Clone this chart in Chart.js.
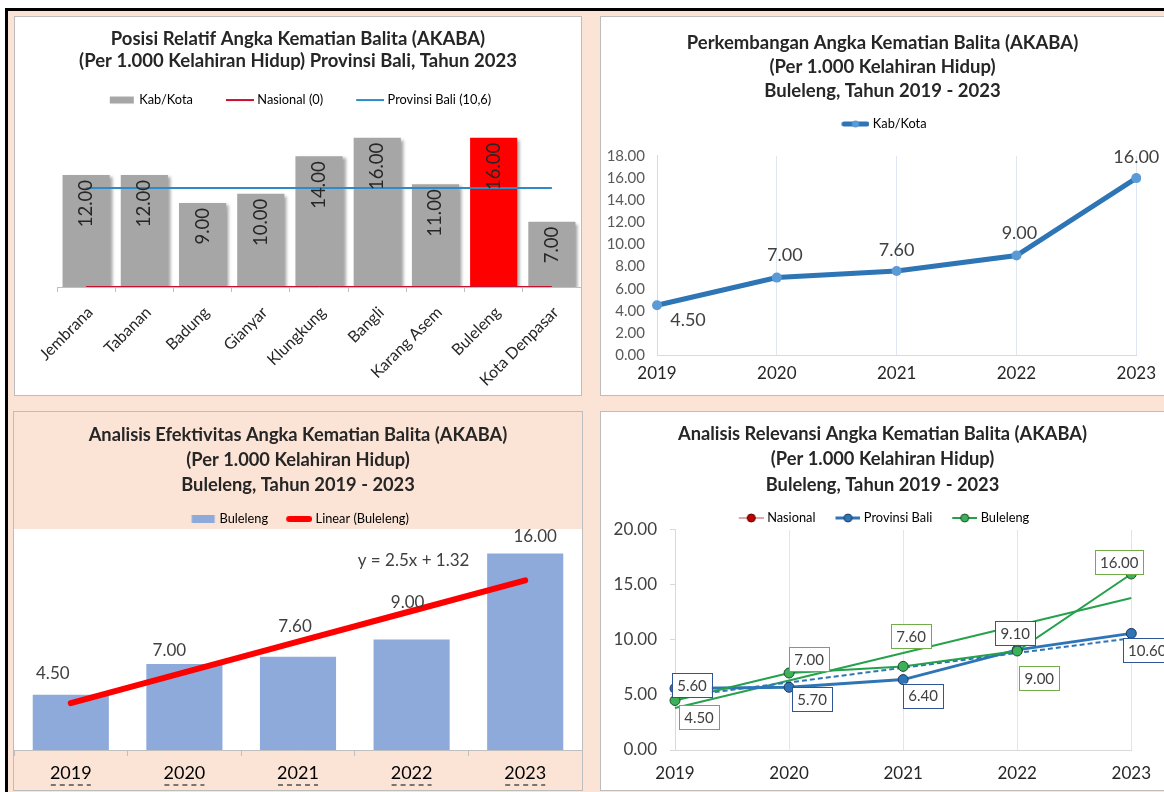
<!DOCTYPE html>
<html>
<head>
<meta charset="utf-8">
<script src="https://cdn.jsdelivr.net/npm/chart.js@4.4.1/dist/chart.umd.min.js"></script>
<style>
html, body { margin: 0; padding: 0; width: 1164px; height: 792px; overflow: hidden; background: #fff; }
#bingkai { position: absolute; left: 5px; top: 8px; width: 1159px; height: 784px; box-sizing: border-box;
  border-top: 3px solid #000; border-left: 3px solid #000; background: #fbe4d6; }
.panel { position: absolute; background: #fff; outline: 1px solid #bdbdbd; }
.panel canvas { display: block; }
#p1 { left: 15px; top: 17px; width: 566px; height: 378px; }
#p2 { left: 601px; top: 17px; width: 563px; height: 378px; }
#p3 { left: 14px; top: 412px; width: 568px; height: 378px; background: #fbe4d6; }
#p4 { left: 601px; top: 412px; width: 563px; height: 378px; }
</style>
</head>
<body>
<div id="bingkai"></div>
<div class="panel" id="p1"><canvas id="c1" width="566" height="378"></canvas></div>
<div class="panel" id="p2"><canvas id="c2" width="563" height="378"></canvas></div>
<div class="panel" id="p3"><canvas id="c3" width="568" height="378"></canvas></div>
<div class="panel" id="p4"><canvas id="c4" width="563" height="378"></canvas></div>
<script>
// data
var kabKota = ['Jembrana', 'Tabanan', 'Badung', 'Gianyar', 'Klungkung', 'Bangli', 'Karang Asem', 'Buleleng', 'Kota Denpasar'];
var akabaKabKota = [12, 12, 9, 10, 14, 16, 11, 16, 7];
var akabaNasional2023 = 0;
var akabaBali2023 = 10.6;

var tahun = ['2019', '2020', '2021', '2022', '2023'];
var akabaBuleleng = [4.5, 7, 7.6, 9, 16];
var akabaProvinsi = [5.6, 5.7, 6.4, 9.1, 10.6];
var akabaNasional = [null, null, null, null, null];

// posisi label data (dx, dy dari titik)
var posLabel2 = [[31, 14], [8, -23], [0, -22], [3, -23], [0, -22]];
var posLabel3 = [[-18, -22], [-15, -15], [-3, -31], [-4, -38], [10, -18]];
var posLabelBali = [[17, -3], [23, 12], [20, 16], [-2, -17], [16, 17]];
var posLabelBuleleng = [[24, 17], [20, -14], [8, -30], [22, 27], [-12, -12]];

var FONT = 'Lato, "Liberation Sans", sans-serif';
Chart.defaults.font.family = FONT;
Chart.defaults.animation = false;
Chart.defaults.events = [];
Chart.defaults.plugins.tooltip.enabled = false;

// garis tren linear (kuadrat terkecil), x = 1..n seperti Excel
function garisTren(values) {
    var n = values.length, sx = 0, sy = 0, sxy = 0, sxx = 0;
    values.forEach(function (y, i) {
        var x = i + 1;
        sx += x; sy += y; sxy += x * y; sxx += x * x;
    });
    var b = (n * sxy - sx * sy) / (n * sxx - sx * sx);
    var a = (sy - b * sx) / n;
    return { slope: b, intercept: a, data: values.map(function (y, i) { return a + b * (i + 1); }) };
}
var trenBuleleng = garisTren(akabaBuleleng);
var trenProvinsi = garisTren(akabaProvinsi);

// ikon legenda digambar sendiri
function ikon(W, draw) {
    var c = document.createElement('canvas');
    c.width = W + 6;
    c.height = 14;
    var g = c.getContext('2d');
    g.translate(6, 0);
    draw(g, W, 7);
    return c;
}
function ikonKotak(warna, w, h) {
    return function (g, W, cy) {
        g.fillStyle = warna;
        g.fillRect((W - w) / 2, cy - h / 2, w, h);
    };
}
function ikonGaris(warna, tebal, r, isi, tepi) {
    return function (g, W, cy) {
        g.strokeStyle = warna;
        g.lineWidth = tebal;
        g.lineCap = tebal > 4 ? 'round' : 'butt';
        g.beginPath();
        g.moveTo(tebal > 4 ? tebal / 2 : 0, cy);
        g.lineTo(tebal > 4 ? W - tebal / 2 : W, cy);
        g.stroke();
        if (r) {
            g.beginPath();
            g.arc(W / 2, cy, r, 0, Math.PI * 2);
            g.fillStyle = isi;
            g.fill();
            if (tepi) { g.lineWidth = 1; g.strokeStyle = tepi; g.stroke(); }
        }
    };
}

function labelLegenda(chart) {
    var items = [];
    chart.data.datasets.forEach(function (ds, i) {
        if (!ds.legendIcon) return;
        items.push({ text: ds.label, pointStyle: ds.legendIcon, fillStyle: 'rgba(0,0,0,0)',
            strokeStyle: 'rgba(0,0,0,0)', lineWidth: 0, hidden: false, datasetIndex: i });
    });
    return items;
}

function legenda(W, pad, size) {
    return {
        display: true,
        labels: { usePointStyle: true, pointStyleWidth: W, boxHeight: size, padding: pad,
            color: '#404040', font: { size: size }, generateLabels: labelLegenda }
    };
}

function judul(lines, size, lh, top, bottom) {
    return { display: true, text: lines, color: '#262626',
        font: { size: size, weight: 'bold', lineHeight: lh }, padding: { top: top, bottom: bottom } };
}

// sumbu kosong untuk memberi ruang kiri/kanan area plot tanpa menggeser judul
function sumbuKosong(pos, lebar) {
    return { axis: 'y', position: pos, display: true, min: 0, max: 1,
        ticks: { display: false }, grid: { display: false, drawTicks: false }, border: { display: false },
        afterFit: function (s) { s.width = lebar; } };
}

// tambahan jarak di bawah legenda
var jarakLegenda = {
    id: 'jarakLegenda',
    beforeInit: function (chart, args, opts) {
        var fit = chart.legend.fit;
        chart.legend.fit = function () {
            fit.bind(chart.legend)();
            this.height += opts.extra || 0;
        };
    }
};

// latar putih area plot
var latarPlot = {
    id: 'latarPlot',
    beforeDraw: function (chart, args, opts) {
        if (!opts.color) return;
        var a = chart.chartArea;
        chart.ctx.save();
        chart.ctx.fillStyle = opts.color;
        chart.ctx.fillRect(a.left, a.top, a.right - a.left, a.bottom - a.top);
        chart.ctx.restore();
    }
};

// bayangan batang (grafik 1)
var bayangan = {
    id: 'bayangan',
    beforeDatasetDraw: function (chart, args, opts) {
        if (!opts.on || args.meta.type !== 'bar') return;
        var ctx = chart.ctx;
        ctx.save();
        ctx.shadowColor = 'rgba(0,0,0,0.35)';
        ctx.shadowBlur = 3;
        ctx.shadowOffsetX = 3;
        ctx.shadowOffsetY = 2;
    },
    afterDatasetDraw: function (chart, args, opts) {
        if (!opts.on || args.meta.type !== 'bar') return;
        chart.ctx.restore();
    }
};

// garis putus-putus di bawah label sumbu x (grafik 3)
var garisBawah = {
    id: 'garisBawah',
    afterDraw: function (chart, args, opts) {
        if (!opts.on) return;
        var ctx = chart.ctx, sx = chart.scales.x;
        ctx.save();
        ctx.strokeStyle = '#505050';
        ctx.lineWidth = 1.5;
        ctx.setLineDash([5, 4]);
        sx.ticks.forEach(function (t, i) {
            var x = sx.getPixelForTick(i);
            ctx.beginPath();
            ctx.moveTo(x - 20, opts.y);
            ctx.lineTo(x + 20, opts.y);
            ctx.stroke();
        });
        ctx.restore();
    }
};

// label nilai
var labelNilai = {
    id: 'labelNilai',
    afterDatasetsDraw: function (chart) {
        var ctx = chart.ctx;
        chart.data.datasets.forEach(function (ds, i) {
            if (!ds.labelSize) return;
            var meta = chart.getDatasetMeta(i);
            meta.data.forEach(function (el, j) {
                var v = ds.data[j];
                if (v == null) return;
                var teks = v.toFixed(2);
                ctx.save();
                ctx.font = ds.labelSize + 'px ' + FONT;
                ctx.fillStyle = '#404040';
                ctx.textBaseline = 'middle';
                if (ds.labelRotate) {
                    ctx.fillStyle = '#262626';
                    ctx.translate(el.x, el.y + 5);
                    ctx.rotate(-Math.PI / 2);
                    ctx.textAlign = 'right';
                    ctx.fillText(teks, 0, 0);
                } else {
                    var o = ds.labelOffsets[j];
                    var x = el.x + o[0], y = el.y + o[1];
                    ctx.textAlign = 'center';
                    if (ds.labelBox) {
                        var w = ctx.measureText(teks).width + 10;
                        ctx.fillStyle = '#fff';
                        ctx.fillRect(x - w / 2, y - 12, w, 24);
                        ctx.strokeStyle = ds.labelBox;
                        ctx.lineWidth = 1;
                        ctx.strokeRect(Math.round(x - w / 2) + 0.5, Math.round(y - 12) + 0.5, Math.round(w), 24);
                        ctx.fillStyle = '#404040';
                    }
                    ctx.fillText(teks, x, y + 1);
                }
                ctx.restore();
            });
        });
        var eq = chart.options.plugins.labelNilai && chart.options.plugins.labelNilai.persamaan;
        if (eq) {
            ctx.save();
            ctx.font = '17px ' + FONT;
            ctx.fillStyle = '#404040';
            ctx.textAlign = 'center';
            ctx.textBaseline = 'middle';
            ctx.fillText(eq.text, chart.scales.x.getPixelForValue(eq.at[0]) + 2, chart.scales.y.getPixelForValue(eq.at[1]));
            ctx.restore();
        }
    }
};

Chart.register(jarakLegenda, latarPlot, bayangan, garisBawah, labelNilai);

// Grafik 1: posisi relatif
new Chart(document.getElementById('c1'), {
    type: 'bar',
    data: {
        labels: kabKota,
        datasets: [{
            type: 'bar',
            label: 'Kab/Kota',
            data: akabaKabKota,
            backgroundColor: kabKota.map(function (k) { return k === 'Buleleng' ? '#ff0000' : '#a6a6a6'; }),
            barPercentage: 0.81,
            categoryPercentage: 1,
            order: 2,
            labelSize: 18.5,
            labelRotate: true,
            legendIcon: ikon(28, ikonKotak('#a6a6a6', 24, 7))
        }, {
            type: 'line',
            label: 'Nasional (0)',
            data: kabKota.map(function () { return akabaNasional2023; }),
            borderColor: '#c8102e',
            borderWidth: 2,
            pointRadius: 0,
            order: 1,
            legendIcon: ikon(28, ikonGaris('#c8102e', 2))
        }, {
            type: 'line',
            label: 'Provinsi Bali (10,6)',
            data: kabKota.map(function () { return akabaBali2023; }),
            borderColor: '#2e8bc9',
            borderWidth: 2,
            pointRadius: 0,
            order: 0,
            legendIcon: ikon(28, ikonGaris('#2e8bc9', 2))
        }]
    },
    options: {
        responsive: false,
        layout: { padding: 0 },
        plugins: {
            title: judul(['Posisi Relatif Angka Kematian Balita (AKABA)',
                '(Per 1.000 Kelahiran Hidup) Provinsi Bali, Tahun 2023'], 18.5, 1.19, 11, -8.4),
            legend: legenda(28, 30, 12.8),
            jarakLegenda: { extra: 2.6 },
            bayangan: { on: true }
        },
        scales: {
            x: {
                offset: true,
                grid: { display: true, drawOnChartArea: false, drawTicks: true, tickLength: 5, color: '#bfbfbf', offset: true },
                border: { color: '#bfbfbf' },
                ticks: { autoSkip: false, minRotation: 45, maxRotation: 45, padding: 11, labelOffset: 4,
                    color: '#262626', font: { size: 16 } },
                afterFit: function (s) { s.height = 108; }
            },
            y: {
                display: true, min: 0, max: 18,
                ticks: { display: false }, grid: { display: false, drawTicks: false }, border: { display: false },
                afterFit: function (s) { s.width = 42; }
            }
        }
    }
});

// Grafik 2: perkembangan
new Chart(document.getElementById('c2'), {
    type: 'line',
    data: {
        labels: tahun,
        datasets: [{
            label: 'Kab/Kota',
            data: akabaBuleleng,
            borderColor: '#2e75b6',
            borderWidth: 5,
            pointRadius: 5,
            pointBackgroundColor: '#5b9bd5',
            pointBorderColor: '#5b9bd5',
            pointBorderWidth: 0,
            labelSize: 18,
            labelOffsets: posLabel2,
            legendIcon: ikon(28, ikonGaris('#2e75b6', 5, 3.5, '#5b9bd5'))
        }]
    },
    options: {
        responsive: false,
        layout: { padding: 0 },
        plugins: {
            title: judul(['Perkembangan Angka Kematian Balita (AKABA)', '(Per 1.000 Kelahiran Hidup)',
                'Buleleng, Tahun 2019 - 2023'], 18.5, 1.297, 14, 4.6),
            legend: legenda(28, 10, 12.8),
            jarakLegenda: { extra: 15.6 }
        },
        scales: {
            x: {
                offset: false,
                grid: { color: '#dfe6f1', drawTicks: false },
                border: { color: '#d9d9d9' },
                ticks: { padding: 8, color: '#262626', font: { size: 17 } },
                afterFit: function (s) { s.height = 40; }
            },
            y: {
                min: 0, max: 18,
                grid: { display: false, drawTicks: false },
                border: { display: true, color: '#d9d9d9' },
                ticks: { stepSize: 2, padding: 12, color: '#595959', font: { size: 15 },
                    callback: function (v) { return v.toFixed(2); } },
                afterFit: function (s) { s.width = 56; }
            },
            kanan: sumbuKosong('right', 24)
        }
    }
});

// Grafik 3: efektivitas
new Chart(document.getElementById('c3'), {
    type: 'bar',
    data: {
        labels: tahun,
        datasets: [{
            type: 'bar',
            label: 'Buleleng',
            data: akabaBuleleng,
            backgroundColor: '#8eaadb',
            barPercentage: 0.67,
            categoryPercentage: 1,
            order: 1,
            labelSize: 17,
            labelOffsets: posLabel3,
            legendIcon: ikon(26, ikonKotak('#8eaadb', 23, 8))
        }, {
            type: 'line',
            label: 'Linear (Buleleng)',
            data: trenBuleleng.data,
            borderColor: '#ff0000',
            borderWidth: 6,
            borderCapStyle: 'round',
            pointRadius: 0,
            order: 0,
            legendIcon: ikon(26, ikonGaris('#ff0000', 6))
        }]
    },
    options: {
        responsive: false,
        layout: { padding: 0 },
        plugins: {
            title: judul(['Analisis Efektivitas Angka Kematian Balita (AKABA)', '(Per 1.000 Kelahiran Hidup)',
                'Buleleng, Tahun 2019 - 2023'], 18.3, 1.366, 10.5, 0.1),
            legend: legenda(26, 15, 12.8),
            jarakLegenda: { extra: -6.4 },
            latarPlot: { color: '#ffffff' },
            garisBawah: { on: true, y: 373 },
            labelNilai: { persamaan: {
                text: 'y = ' + +trenBuleleng.slope.toFixed(2) + 'x + ' + +trenBuleleng.intercept.toFixed(2),
                at: [3, 15.4] } }
        },
        scales: {
            x: {
                offset: true,
                grid: { display: true, drawOnChartArea: false, drawTicks: true, tickLength: 6, color: '#bfbfbf', offset: true },
                border: { color: '#bfbfbf' },
                ticks: { padding: 6, color: '#000', font: { size: 18 } },
                afterFit: function (s) { s.height = 40; }
            },
            y: { display: false, min: 0, max: 18 }
        }
    }
});

// Grafik 4: relevansi
new Chart(document.getElementById('c4'), {
    type: 'line',
    data: {
        labels: tahun,
        datasets: [{
            label: 'Nasional',
            data: akabaNasional,
            borderColor: '#c0504d',
            borderWidth: 1,
            pointRadius: 5,
            pointBackgroundColor: '#c00000',
            order: 3,
            legendIcon: ikon(25, ikonGaris('#c0504d', 1, 4, '#c00000', '#5a0000'))
        }, {
            label: 'Provinsi Bali',
            data: akabaProvinsi,
            borderColor: '#2e75b6',
            borderWidth: 3,
            pointRadius: 5,
            pointBackgroundColor: '#2e75b6',
            pointBorderColor: '#1f3864',
            pointBorderWidth: 1,
            order: 1,
            labelSize: 15,
            labelOffsets: posLabelBali,
            labelBox: '#2f5597',
            legendIcon: ikon(25, ikonGaris('#2e75b6', 3, 4, '#2e75b6', '#1f3864'))
        }, {
            label: 'Buleleng',
            data: akabaBuleleng,
            borderColor: '#22a14a',
            borderWidth: 2,
            pointRadius: 5,
            pointBackgroundColor: '#3cb15a',
            pointBorderColor: '#1e4d2b',
            pointBorderWidth: 1,
            order: 0,
            labelSize: 15,
            labelOffsets: posLabelBuleleng,
            labelBox: '#70ad47',
            legendIcon: ikon(25, ikonGaris('#22a14a', 2, 4, '#3cb15a', '#1e4d2b'))
        }, {
            label: 'Linear (Provinsi Bali)',
            data: trenProvinsi.data,
            borderColor: '#2e75b6',
            borderWidth: 2,
            borderDash: [5, 3],
            pointRadius: 0,
            order: 2
        }, {
            label: 'Linear (Buleleng)',
            data: trenBuleleng.data,
            borderColor: '#27a24c',
            borderWidth: 2,
            pointRadius: 0,
            order: 2
        }]
    },
    options: {
        responsive: false,
        layout: { padding: 0 },
        plugins: {
            title: judul(['Analisis Relevansi Angka Kematian Balita (AKABA)', '(Per 1.000 Kelahiran Hidup)',
                'Buleleng, Tahun 2019 - 2023'], 18.3, 1.393, 9.25, -3.15),
            legend: legenda(25, 17, 12.8),
            jarakLegenda: { extra: -4.4 }
        },
        scales: {
            x: {
                offset: false,
                grid: { color: '#dfe6f1', drawTicks: false },
                border: { color: '#d9d9d9' },
                ticks: { padding: 13, color: '#262626', font: { size: 17 } },
                afterFit: function (s) { s.height = 40; }
            },
            y: {
                min: 0, max: 20,
                grid: { display: true, drawOnChartArea: false, drawTicks: true, tickLength: 5, color: '#d9d9d9' },
                border: { color: '#d9d9d9' },
                ticks: { stepSize: 5, padding: 13, color: '#404040', font: { size: 17 },
                    callback: function (v) { return v.toFixed(2); } },
                afterFit: function (s) { s.width = 74; }
            },
            kanan: sumbuKosong('right', 24)
        }
    }
});
</script>
</body>
</html>
